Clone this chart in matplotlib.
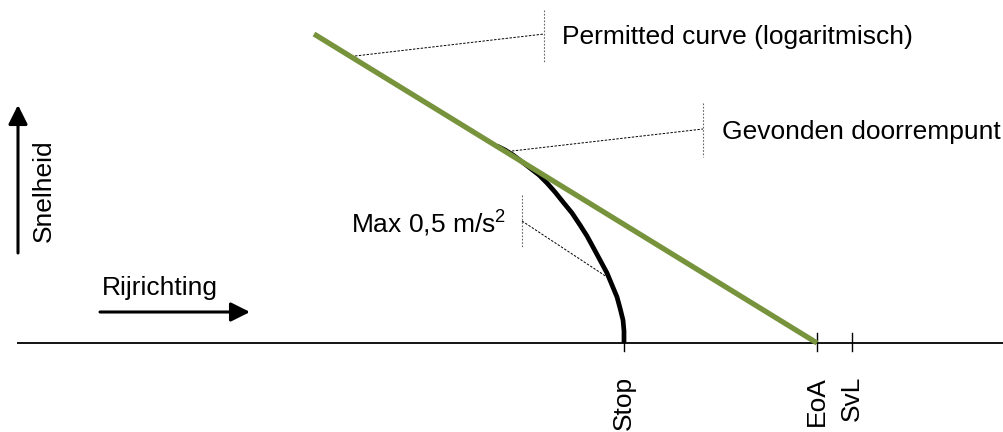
import matplotlib
matplotlib.use("Agg")
import matplotlib.pyplot as plt

plt.rcParams['font.family'] = ['Liberation Sans', 'DejaVu Sans']
plt.rcParams['mathtext.fontset'] = 'custom'
plt.rcParams['mathtext.rm'] = 'Liberation Sans'
plt.rcParams['mathtext.it'] = 'Liberation Sans:italic'
plt.rcParams['mathtext.bf'] = 'Liberation Sans:bold'

# ---- data (distance units along track, speed units) ----
permitted_distance = [314, 817]
permitted_speed = [309, 0]

braking_distance = [497, 505, 513, 521, 530, 539, 547, 555, 563, 572, 580,
                    587, 593, 600, 607, 612, 617, 620, 623, 624, 624]
braking_speed = [197, 193, 188, 182, 175, 168, 160, 151, 141, 130, 118,
                 107, 96, 83, 70, 58, 46, 35, 23, 12, 0]

marker_labels = ["Stop", "EoA", "SvL"]
marker_positions = [624, 817, 852]

label_permitted = "Permitted curve (logaritmisch)"
label_found = "Gevonden doorrempunt"
label_max = "Max 0,5 m/s$^{2}$"
label_speed = "Snelheid"
label_direction = "Rijrichting"

GREEN = "#77933C"
FS = 19

fig = plt.figure(figsize=(10.04, 4.32), dpi=100)
ax = fig.add_axes([0, 0, 1, 1])
ax.set_xlim(0, 1004)
ax.set_ylim(-89, 343)
ax.set_axis_off()

# distance axis
ax.plot([17, 1004], [0, 0], color="black", lw=1.3, solid_capstyle="butt", zorder=2)
for p in marker_positions:
    ax.plot([p, p], [-8, 10], color="black", lw=1.0, zorder=2)
for p, lab in zip(marker_positions, marker_labels):
    ax.text(p, -33, lab, rotation=90, ha="center", va="top", fontsize=FS,
            rotation_mode="default")

# curves
ax.plot(braking_distance, braking_speed, color="black", lw=3.4,
        solid_capstyle="butt", solid_joinstyle="round", zorder=3)
ax.plot(permitted_distance, permitted_speed, color=GREEN, lw=3.8,
        solid_capstyle="butt", zorder=4)

# callouts
bar_kw = dict(color="#666666", lw=0.8, linestyle=(0, (1.5, 1.5)), zorder=2)
con_kw = dict(color="black", lw=0.7, linestyle=(0, (2.5, 1.5)), zorder=2)

# Permitted curve
ax.plot([544, 544], [333, 281], **bar_kw)
ax.plot([355, 544], [287, 309], **con_kw)
ax.text(562, 299, label_permitted, ha="left", va="baseline", fontsize=FS)

# Gevonden doorrempunt
ax.plot([703, 703], [240, 186], **bar_kw)
ax.plot([512, 703], [192, 214], **con_kw)
ax.text(722, 204, label_found, ha="left", va="baseline", fontsize=FS)

# Max 0,5 m/s2
ax.plot([522, 522], [148, 95], **bar_kw)
ax.plot([522, 607], [122, 66], **con_kw)
ax.text(506, 110, label_max, ha="right", va="baseline", fontsize=FS)

# speed arrow + label
ax.annotate("", xy=(18, 238), xytext=(18, 90),
            arrowprops=dict(arrowstyle="-|>,head_length=0.58,head_width=0.29",
                            lw=2.2, color="black", shrinkA=0, shrinkB=0,
                            mutation_scale=20))
ax.text(44, 152, label_speed, rotation=90, ha="center", va="center", fontsize=FS)

# direction arrow + label
ax.annotate("", xy=(250, 31), xytext=(100, 31),
            arrowprops=dict(arrowstyle="-|>,head_length=0.58,head_width=0.29",
                            lw=2.2, color="black", shrinkA=0, shrinkB=0,
                            mutation_scale=20))
ax.text(102, 48, label_direction, ha="left", va="baseline", fontsize=FS)

fig.savefig("out.png", dpi=100, facecolor="white")
